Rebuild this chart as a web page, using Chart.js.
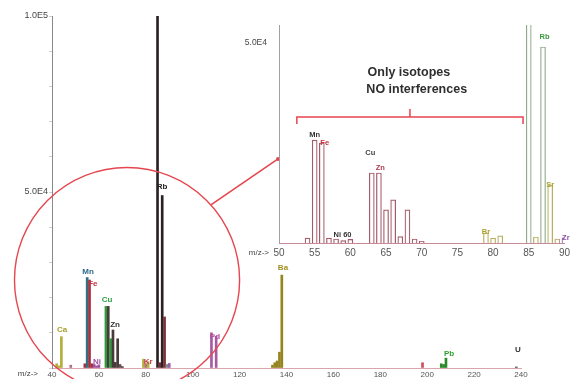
<!DOCTYPE html>
<html>
<head>
<meta charset="utf-8">
<script src="https://cdn.jsdelivr.net/npm/chart.js"></script>
<style>
  body { margin: 0; background: #fff; }
  #wrap { position: relative; width: 574px; height: 379px; overflow: hidden; }
  #mainChart { position: absolute; left: 0; top: 0; }
  #insetChart { position: absolute; left: 238px; top: 14px; }
</style>
</head>
<body>
<div id="wrap">
  <canvas id="mainChart" width="574" height="379"></canvas>
  <canvas id="insetChart" width="336" height="248"></canvas>
</div>
<script>
// spectrum peaks (m/z, counts, element)
const mz = [42, 43, 44, 48, 54, 55, 56, 57, 58, 59, 60, 63, 64, 65, 66, 67, 68, 69, 70,
  79, 80, 81, 85, 86, 87, 88, 89, 90, 108, 110, 134, 135, 136, 137, 138, 198, 206, 207, 208, 238];
const counts = [1200, 600, 8900, 800, 1200, 25700, 25000, 1200, 1000, 600, 900, 17500, 17500, 8300, 10800, 1600, 8300, 1000, 400,
  2500, 1200, 1800, 100000, 1500, 49000, 14500, 1000, 1300, 10000, 9000, 800, 1500, 2000, 4500, 26400, 1500, 1200, 1000, 2800, 300];
const element = ['Ca', 'Ca', 'Ca', 'Ti', 'Fe', 'Mn', 'Fe', 'Fe', 'Ni', 'Co', 'Ni', 'Cu', 'Zn', 'Cu', 'Zn', 'Zn', 'Zn', 'Ga', 'Zn',
  'Br', 'Se', 'Br', 'Rb', 'Sr', 'Rb', 'Sr', 'Y', 'Zr', 'Pd', 'Pd', 'Ba', 'Ba', 'Ba', 'Ba', 'Ba', 'Pt', 'Pb', 'Pb', 'Pb', 'U'];

// axis ticks
const mainXTicks = [40, 60, 80, 100, 120, 140, 160, 180, 200, 220, 240];
const mainYLabels = { 50000: '5.0E4', 100000: '1.0E5' };
const insetXTicks = [50, 55, 60, 65, 70, 75, 80, 85, 90];
const insetYLabels = { 50000: '5.0E4' };

// element labels on the full spectrum
const mainLabelText = ['Ca', 'Mn', 'Fe', 'Ni', 'Cu', 'Zn', 'Kr', 'Rb', 'Pd', 'Ba', 'Pb', 'U'];
const mainLabelMz = [44.3, 55.4, 57.4, 59.2, 63.5, 66.9, 81, 86.9, 109.5, 138.5, 209.3, 238.7];
const mainLabelAt = [10800, 27300, 24000, 1700, 19300, 12200, 1700, 51400, 8800, 28400, 4000, 5100];

// element labels on the zoomed spectrum
const insetLabelText = ['Mn', 'Fe', 'Cu', 'Zn', 'Ni 60', 'Br', 'Rb', 'Sr', 'Zr'];
const insetLabelMz = [55, 56.4, 62.8, 64.2, 58.9, 79, 87.2, 88, 90.2];
const insetLabelAt = [27000, 25000, 22500, 18750, 2000, 2750, 51500, 14500, 1250];

// annotation
const noteLines = ['Only isotopes', 'NO interferences'];
const noteMz = [68.2, 69.3];
const noteAt = [42500, 38250];
const bracketFrom = 52.5, bracketTo = 84.2, bracketAt = 31500;

const FONT = '"Liberation Sans", Arial, sans-serif';

const mainBarColor = {
  Ca: '#b4ae3c', Ti: '#b07080', Fe: '#a8303c', Mn: '#2f6f88', Ni: '#a050a0', Co: '#a050a0',
  Cu: '#2f9a3c', Zn: '#4a3a3a', Ga: '#6a4a4a', Br: '#b4ae3c', Se: '#b07080', Rb: '#2a2222',
  Sr: '#7a3038', Y: '#888', Zr: '#9a60a8', Pd: '#a85aa0', Ba: '#958520', Pt: '#d05060',
  Pb: '#2a8a2a', U: '#555'
};
const insetBarColor = {
  Ca: '#b4ae3c', Ti: '#b07080', Fe: '#a45a68', Mn: '#a45a68', Ni: '#a45a68', Co: '#a45a68',
  Cu: '#a45a68', Zn: '#a45a68', Ga: '#a45a68', Br: '#b8b060', Se: '#b8b060', Rb: '#92aa8c',
  Sr: '#b8b060', Y: '#b8a070', Zr: '#9a70b0', Pd: '#a85aa0', Ba: '#958520', Pt: '#d05060',
  Pb: '#2a8a2a', U: '#555'
};
const mainLabelColor = {
  Ca: '#a8a030', Mn: '#2a6a8a', Fe: '#c03040', Ni: '#a050a0', Cu: '#30a040', Zn: '#333',
  Kr: '#c04050', Rb: '#222', Pd: '#b050a0', Ba: '#a09020', Pb: '#30a030', U: '#333'
};
const insetLabelColor = {
  Mn: '#333', Fe: '#c03040', Cu: '#444', Zn: '#b03a50', 'Ni 60': '#333', Br: '#a8a030',
  Rb: '#3a9a40', Sr: '#a8a030', Zr: '#9050a8'
};

const peakData = mz.map((m, i) => ({ x: m, y: counts[i] }));

// draws element names at data coordinates
const peakLabels = {
  id: 'peakLabels',
  afterDatasetsDraw(chart, args, opts) {
    const { ctx, scales: { x, y } } = chart;
    ctx.save();
    ctx.font = opts.font;
    ctx.textAlign = 'center';
    ctx.textBaseline = 'middle';
    opts.text.forEach((t, i) => {
      ctx.fillStyle = opts.colors[t] || '#333';
      ctx.fillText(t, x.getPixelForValue(opts.mz[i]), y.getPixelForValue(opts.at[i]));
    });
    ctx.restore();
  }
};

// "m/z->" in front of the x tick labels
const axisName = {
  id: 'axisName',
  afterDraw(chart, args, opts) {
    const { ctx, chartArea } = chart;
    ctx.save();
    ctx.font = opts.font;
    ctx.fillStyle = '#444';
    ctx.textAlign = 'right';
    ctx.textBaseline = 'middle';
    ctx.fillText('m/z->', chartArea.left + opts.dx, chartArea.bottom + opts.dy);
    ctx.restore();
  }
};

// red circle around the zoomed range and the arrow to the inset
const zoomMarks = {
  id: 'zoomMarks',
  afterDraw(chart) {
    const { ctx, scales: { x, y } } = chart;
    const cx = x.getPixelForValue(72), cy = y.getPixelForValue(25000);
    const r = x.getPixelForValue(120) - cx;
    ctx.save();
    ctx.strokeStyle = '#e6464e';
    ctx.lineWidth = 1.4;
    ctx.beginPath();
    ctx.arc(cx, cy, r, 0, Math.PI * 2);
    ctx.stroke();
    const a = -0.73;
    const ex = x.getPixelForValue(136.4), ey = y.getPixelForValue(59400);
    ctx.lineWidth = 1.6;
    ctx.beginPath();
    ctx.moveTo(cx + r * Math.cos(a), cy + r * Math.sin(a));
    ctx.lineTo(ex, ey);
    ctx.stroke();
    ctx.fillStyle = '#e6464e';
    ctx.beginPath();
    ctx.arc(ex, ey, 2, 0, Math.PI * 2);
    ctx.fill();
    ctx.restore();
  }
};

// bracket and text in the inset
const isotopeNote = {
  id: 'isotopeNote',
  afterDraw(chart) {
    const { ctx, scales: { x, y } } = chart;
    const x0 = x.getPixelForValue(bracketFrom), x1 = x.getPixelForValue(bracketTo);
    const yb = y.getPixelForValue(bracketAt);
    const xm = (x0 + x1) / 2;
    ctx.save();
    ctx.strokeStyle = '#e6464e';
    ctx.lineWidth = 1.5;
    ctx.beginPath();
    ctx.moveTo(x0, yb + 7);
    ctx.lineTo(x0, yb);
    ctx.lineTo(x1, yb);
    ctx.lineTo(x1, yb + 7);
    ctx.moveTo(xm, yb);
    ctx.lineTo(xm, yb - 8);
    ctx.stroke();
    ctx.font = 'bold 12.5px ' + FONT;
    ctx.fillStyle = '#2e2e2e';
    ctx.textAlign = 'center';
    ctx.textBaseline = 'middle';
    noteLines.forEach((t, i) => ctx.fillText(t, x.getPixelForValue(noteMz[i]), y.getPixelForValue(noteAt[i])));
    ctx.restore();
  }
};

function fixedTicks(values) {
  return axis => { axis.ticks = values.map(v => ({ value: v })); };
}

new Chart(document.getElementById('mainChart'), {
  type: 'bar',
  data: {
    datasets: [{
      data: peakData,
      backgroundColor: element.map(e => mainBarColor[e]),
      borderWidth: 0,
      barThickness: 2,
      grouped: false
    }]
  },
  options: {
    responsive: false,
    animation: false,
    layout: { padding: { top: 16, right: 53, left: 0, bottom: 0 } },
    plugins: {
      legend: { display: false },
      tooltip: { enabled: false },
      peakLabels: { text: mainLabelText, mz: mainLabelMz, at: mainLabelAt, colors: mainLabelColor, font: 'bold 8px ' + FONT },
      axisName: { font: '8px ' + FONT, dx: -14, dy: 6 }
    },
    scales: {
      x: {
        type: 'linear', min: 40, max: 240, offset: false,
        afterBuildTicks: fixedTicks(mainXTicks),
        afterFit: s => { s.height = 11; },
        grid: { display: false, drawTicks: false },
        border: { color: '#d9a4ac', width: 1 },
        ticks: { padding: 2, font: { size: 8, family: FONT }, color: '#555', maxRotation: 0, autoSkip: false }
      },
      y: {
        min: 0, max: 100000,
        afterBuildTicks: fixedTicks([0, 10000, 20000, 30000, 40000, 50000, 60000, 70000, 80000, 90000, 100000]),
        afterFit: s => { s.width = 52; },
        grid: { drawOnChartArea: false, tickLength: 3, color: '#d0d0d0' },
        border: { color: '#8a8a8a', width: 1 },
        ticks: { padding: 1, font: { size: 9, family: FONT }, color: '#444',
          callback: v => mainYLabels[v] || '' }
      }
    }
  },
  plugins: [peakLabels, axisName, zoomMarks]
});

new Chart(document.getElementById('insetChart'), {
  type: 'bar',
  data: {
    datasets: [{
      data: peakData,
      backgroundColor: 'rgba(255,255,255,0.95)',
      borderColor: element.map(e => insetBarColor[e]),
      borderWidth: 1.2,
      barThickness: 5,
      grouped: false
    }]
  },
  options: {
    responsive: false,
    animation: false,
    layout: { padding: { top: 11, right: 7, left: 0, bottom: 0 } },
    plugins: {
      legend: { display: false },
      tooltip: { enabled: false },
      peakLabels: { text: insetLabelText, mz: insetLabelMz, at: insetLabelAt, colors: insetLabelColor, font: 'bold 7.5px ' + FONT },
      axisName: { font: '8px ' + FONT, dx: -10, dy: 10 }
    },
    scales: {
      x: {
        type: 'linear', min: 50, max: 90, offset: false,
        afterBuildTicks: fixedTicks(insetXTicks),
        afterFit: s => { s.height = 19; },
        grid: { display: false, drawTicks: false },
        border: { color: '#c88a96', width: 1, dash: [2, 2] },
        ticks: { padding: 4, font: { size: 10, family: FONT }, color: '#555', maxRotation: 0, autoSkip: false }
      },
      y: {
        min: 0, max: 54500,
        afterBuildTicks: fixedTicks([50000]),
        afterFit: s => { s.width = 41; },
        grid: { display: false },
        border: { color: '#a0a0a0', width: 1 },
        ticks: { padding: 4, font: { size: 8.5, family: FONT }, color: '#444',
          callback: v => insetYLabels[v] || '' }
      }
    }
  },
  plugins: [peakLabels, axisName, isotopeNote]
});
</script>
</body>
</html>
